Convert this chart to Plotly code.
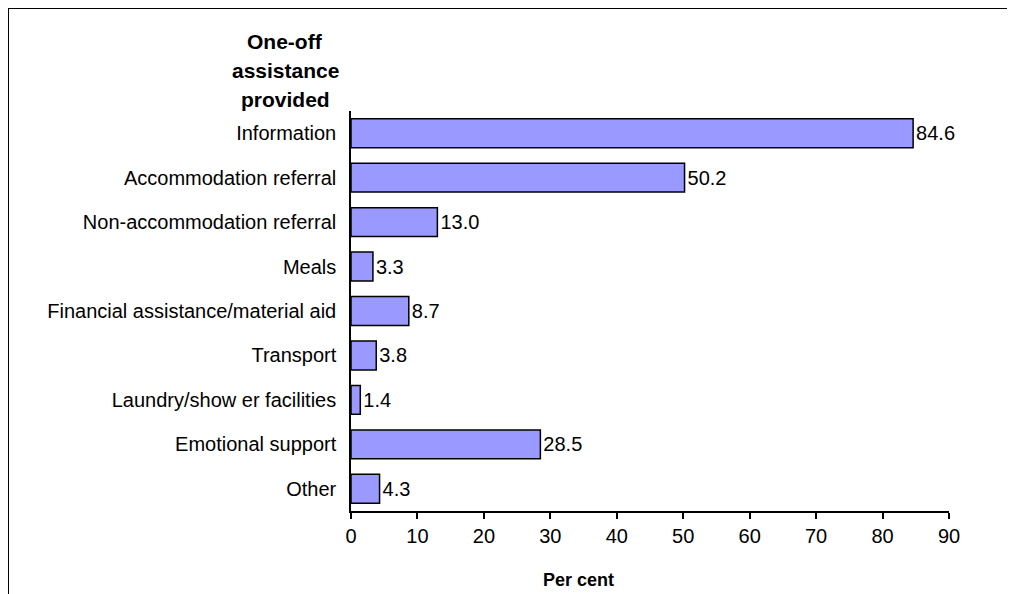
import plotly.graph_objects as go

categories = [
    "Information",
    "Accommodation referral",
    "Non-accommodation referral",
    "Meals",
    "Financial assistance/material aid",
    "Transport",
    "Laundry/show er facilities",
    "Emotional support",
    "Other",
]
values = [84.6, 50.2, 13.0, 3.3, 8.7, 3.8, 1.4, 28.5, 4.3]
x_ticks = [0, 10, 20, 30, 40, 50, 60, 70, 80, 90]

FONT = "Liberation Sans, Arial, sans-serif"
W, H = 1015, 594
L, R, T, B = 343, 74, 103, 91
PW, PH = W - L - R, H - T - B

def px(x):
    return (x - L) / PW

def py(y):
    return (H - B - y) / PH

fig = go.Figure(
    go.Bar(
        x=values,
        y=categories,
        orientation="h",
        marker=dict(color="#9999FF", line=dict(color="black", width=1.5)),
        text=values,
        texttemplate="%{x:.1f}",
        textposition="outside",
        textfont=dict(family=FONT, size=20, color="black"),
        cliponaxis=False,
    )
)

fig.update_layout(
    width=W,
    height=H,
    margin=dict(l=L, r=R, t=T, b=B, autoexpand=False),
    paper_bgcolor="white",
    plot_bgcolor="white",
    showlegend=False,
    bargap=0.35,
    font=dict(family=FONT, size=20, color="black"),
)

fig.update_xaxes(
    range=[0, 90],
    tickvals=x_ticks,
    ticks="outside",
    ticklen=6,
    tickwidth=1.5,
    tickcolor="black",
    showline=True,
    linecolor="black",
    linewidth=1.5,
    showgrid=False,
    zeroline=False,
    tickfont=dict(family=FONT, size=20, color="black"),
)
fig.update_yaxes(
    categoryorder="array",
    categoryarray=categories,
    autorange="reversed",
    showline=True,
    linecolor="black",
    linewidth=1.5,
    showgrid=False,
    ticks="",
    ticklabelstandoff=9,
    tickfont=dict(family=FONT, size=20, color="black"),
)

title_lines = ["One-off", "assistance", "provided"]
title_y = [34, 63, 92]
for line, yy in zip(title_lines, title_y):
    fig.add_annotation(
        text=f"<b>{line}</b>",
        xref="paper", yref="paper",
        x=px(277), y=py(yy),
        xanchor="center", yanchor="middle",
        showarrow=False,
        font=dict(family=FONT, size=21, color="black"),
    )

# x-axis title
fig.add_annotation(
    text="<b>Per cent</b>",
    xref="paper", yref="paper",
    x=px(570), y=py(572),
    xanchor="center", yanchor="middle",
    showarrow=False,
    font=dict(family=FONT, size=18, color="black"),
)

# outer frame (left and top edges)
fig.add_shape(type="line", xref="paper", yref="paper",
              x0=px(0), x1=px(0), y0=py(0), y1=py(594),
              line=dict(color="black", width=2))
fig.add_shape(type="line", xref="paper", yref="paper",
              x0=px(0), x1=px(1015), y0=py(0), y1=py(0),
              line=dict(color="black", width=2))

fig.write_html("out.html")
